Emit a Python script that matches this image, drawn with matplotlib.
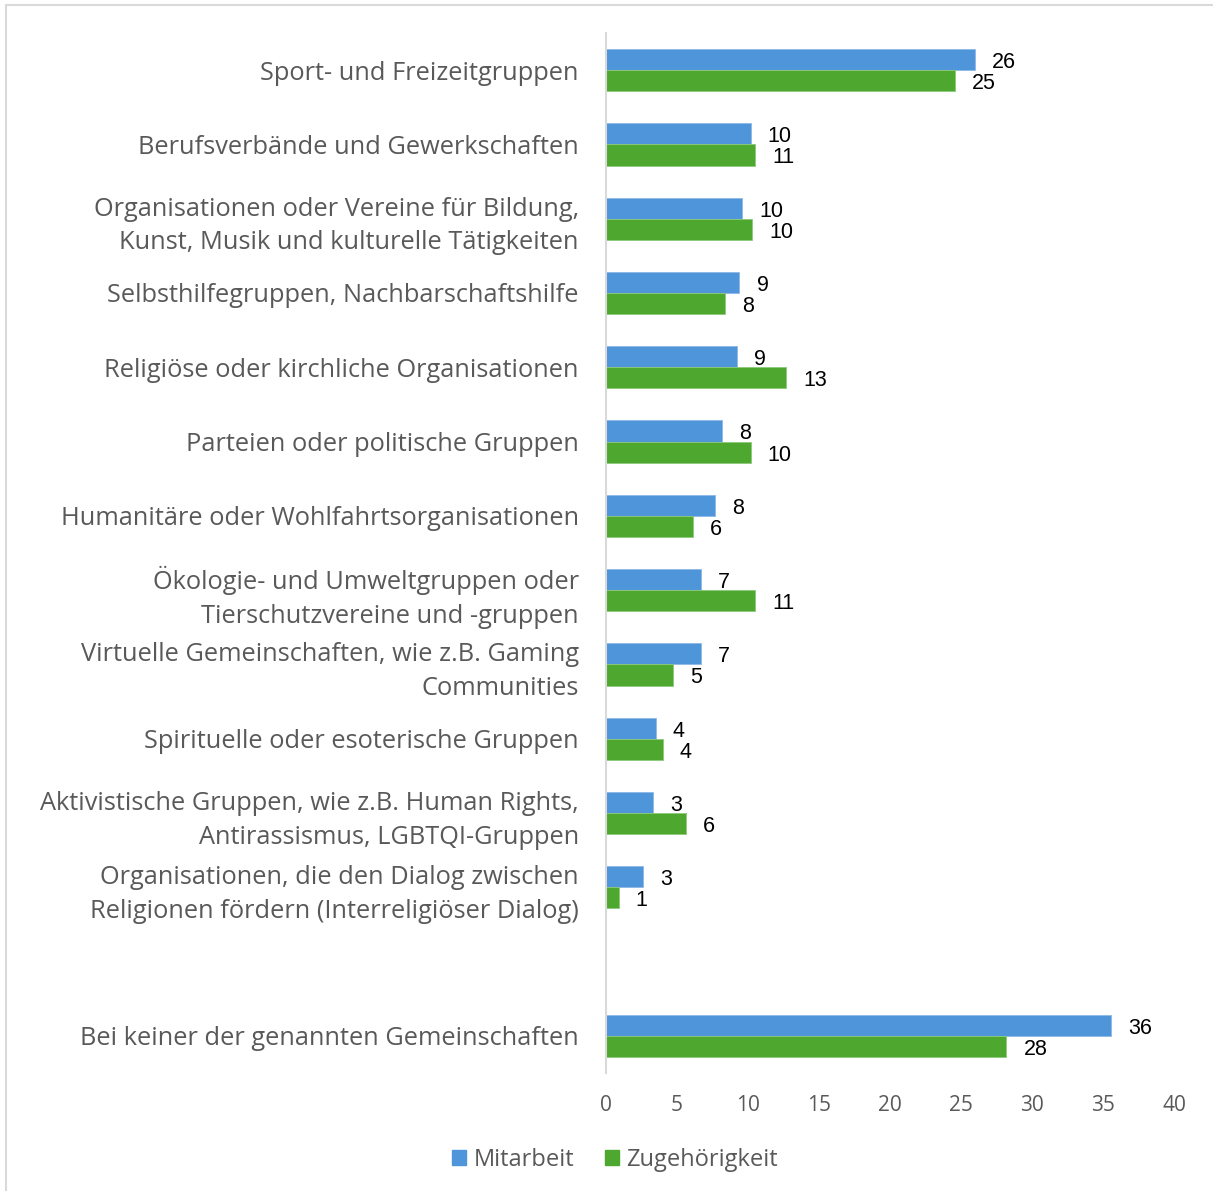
import matplotlib.pyplot as plt
from matplotlib.patches import Patch

# categories top to bottom, '' is the empty gap row
categories = [
    'Sport- und Freizeitgruppen',
    'Berufsverbände und Gewerkschaften',
    'Organisationen oder Vereine für Bildung,\nKunst, Musik und kulturelle Tätigkeiten',
    'Selbsthilfegruppen, Nachbarschaftshilfe',
    'Religiöse oder kirchliche Organisationen',
    'Parteien oder politische Gruppen',
    'Humanitäre oder Wohlfahrtsorganisationen',
    'Ökologie- und Umweltgruppen oder\nTierschutzvereine und -gruppen',
    'Virtuelle Gemeinschaften, wie z.B. Gaming\nCommunities',
    'Spirituelle oder esoterische Gruppen',
    'Aktivistische Gruppen, wie z.B. Human Rights,\nAntirassismus, LGBTQI-Gruppen',
    'Organisationen, die den Dialog zwischen\nReligionen fördern (Interreligiöser Dialog)',
    '',
    'Bei keiner der genannten Gemeinschaften',
]
mitarbeit = [26.0, 10.2, 9.6, 9.4, 9.2, 8.2, 7.7, 6.7, 6.7, 3.5, 3.3, 2.6, None, 35.6]
zugehoerigkeit = [24.6, 10.5, 10.3, 8.4, 12.7, 10.2, 6.1, 10.5, 4.7, 4.0, 5.6, 0.9, None, 28.2]
mitarbeit_labels = ['26', '10', '10', '9', '9', '8', '8', '7', '7', '4', '3', '3', '', '36']
zugehoerigkeit_labels = ['25', '11', '10', '8', '13', '10', '6', '11', '5', '4', '6', '1', '', '28']

blue = '#4E95D9'
green = '#4EA72E'
grey = '#595959'
font = 'Open Sans'
numfont = 'Liberation Sans'

fig = plt.figure(figsize=(12.13, 11.91), dpi=100)
ax = fig.add_axes([0.4996, 0.0991, 0.9678 - 0.4996, 0.9723 - 0.0991])

h = 0.285
for i, (m, z) in enumerate(zip(mitarbeit, zugehoerigkeit)):
    if m is None:
        continue
    ax.barh(i - h / 2, m, height=h, color=blue, edgecolor='#8DB9E6', linewidth=0.6)
    ax.barh(i + h / 2, z, height=h, color=green, edgecolor='#8CC97A', linewidth=0.6)
    ax.text(m + 1.2, i - h / 2 + 0.04, mitarbeit_labels[i], va='center', ha='left',
            fontsize=15.5, family=numfont, color='black')
    ax.text(z + 1.2, i + h / 2 + 0.04, zugehoerigkeit_labels[i], va='center', ha='left',
            fontsize=15.5, family=numfont, color='black')

ax.set_xlim(0, 40)
ax.set_ylim(13.5, -0.5)
ax.set_xticks(range(0, 41, 5))
ax.set_yticks(range(len(categories)))
ax.set_yticklabels(categories, family=font, fontsize=18.3, color=grey, linespacing=1.45)
for lab in ax.get_xticklabels():
    lab.set_family(font)
    lab.set_fontsize(15)
    lab.set_color(grey)
ax.tick_params(axis='y', length=0, pad=19.5)
ax.tick_params(axis='x', length=0, pad=16)
for s in ['top', 'right', 'bottom']:
    ax.spines[s].set_visible(False)
ax.spines['left'].set_color('#D9D9D9')
ax.spines['left'].set_linewidth(1.5)

# legend
handles = [Patch(color=blue, label='Mitarbeit'), Patch(color=green, label='Zugehörigkeit')]
fig.legend(handles=handles, loc='center', bbox_to_anchor=(0.507, 1 - 1160 / 1191), ncol=2,
           frameon=False, prop={'family': font, 'size': 17}, labelcolor=grey,
           handlelength=0.6, handleheight=0.6, handletextpad=0.3, columnspacing=1.3)

# chart frame lines (left and top)
fig.add_artist(plt.Line2D([6 / 1213, 6 / 1213], [0, 1 - 5 / 1191], color='#D9D9D9', lw=1.5))
fig.add_artist(plt.Line2D([6 / 1213, 1], [1 - 5 / 1191, 1 - 5 / 1191], color='#D9D9D9', lw=1.5))

fig.savefig('out.png', dpi=100)
